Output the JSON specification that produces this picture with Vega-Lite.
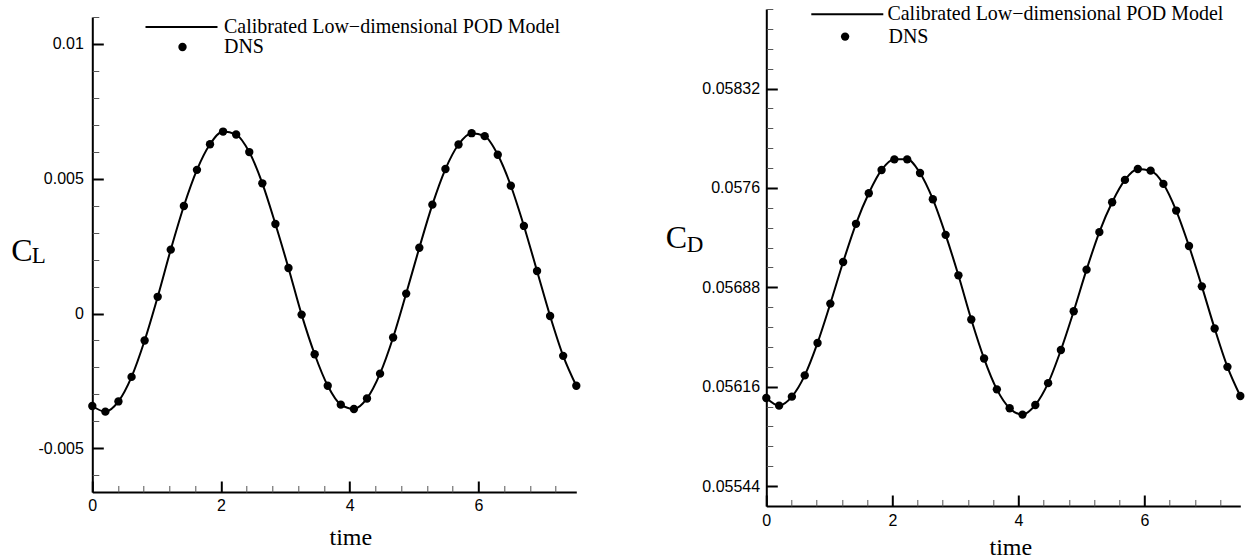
{
  "$schema": "https://vega.github.io/schema/vega-lite/v6.json",
  "background": "white",
  "padding": {"left": 10.3, "top": 4, "right": 0, "bottom": 0},
  "spacing": 83,
  "datasets": {
    "cl": [
      {"time": 0, "CL": -0.00343}, {"time": 0.203, "CL": -0.00364}, {"time": 0.406, "CL": -0.00326}, {"time": 0.61, "CL": -0.00235},
      {"time": 0.813, "CL": -0.001}, {"time": 1.016, "CL": 0.00062}, {"time": 1.219, "CL": 0.00237}, {"time": 1.423, "CL": 0.00399},
      {"time": 1.626, "CL": 0.00533}, {"time": 1.829, "CL": 0.00628}, {"time": 2.032, "CL": 0.00675}, {"time": 2.235, "CL": 0.00664},
      {"time": 2.439, "CL": 0.00599}, {"time": 2.642, "CL": 0.00483}, {"time": 2.845, "CL": 0.00332}, {"time": 3.048, "CL": 0.00169},
      {"time": 3.252, "CL": -0.00004}, {"time": 3.455, "CL": -0.00151}, {"time": 3.658, "CL": -0.00268}, {"time": 3.861, "CL": -0.00338},
      {"time": 4.065, "CL": -0.00354}, {"time": 4.268, "CL": -0.00315}, {"time": 4.471, "CL": -0.00223}, {"time": 4.674, "CL": -0.00089},
      {"time": 4.877, "CL": 0.00074}, {"time": 5.081, "CL": 0.00244}, {"time": 5.284, "CL": 0.00404}, {"time": 5.487, "CL": 0.00536},
      {"time": 5.69, "CL": 0.00627}, {"time": 5.894, "CL": 0.00669}, {"time": 6.097, "CL": 0.00658}, {"time": 6.3, "CL": 0.00589},
      {"time": 6.503, "CL": 0.00474}, {"time": 6.706, "CL": 0.00325}, {"time": 6.91, "CL": 0.00158}, {"time": 7.113, "CL": -0.00009},
      {"time": 7.316, "CL": -0.00157}, {"time": 7.52, "CL": -0.00268}
    ],
    "cd": [
      {"time": 0, "CD": 0.056078}, {"time": 0.203, "CD": 0.056023}, {"time": 0.406, "CD": 0.056088}, {"time": 0.61, "CD": 0.056242},
      {"time": 0.813, "CD": 0.056477}, {"time": 1.016, "CD": 0.056762}, {"time": 1.219, "CD": 0.057063}, {"time": 1.423, "CD": 0.05734},
      {"time": 1.626, "CD": 0.057561}, {"time": 1.829, "CD": 0.05773}, {"time": 2.032, "CD": 0.057807}, {"time": 2.235, "CD": 0.057807},
      {"time": 2.439, "CD": 0.057708}, {"time": 2.642, "CD": 0.057518}, {"time": 2.845, "CD": 0.05726}, {"time": 3.048, "CD": 0.056967},
      {"time": 3.252, "CD": 0.056647}, {"time": 3.455, "CD": 0.056364}, {"time": 3.658, "CD": 0.056141}, {"time": 3.861, "CD": 0.056004},
      {"time": 4.065, "CD": 0.055958}, {"time": 4.268, "CD": 0.056028}, {"time": 4.471, "CD": 0.056186}, {"time": 4.674, "CD": 0.056426},
      {"time": 4.877, "CD": 0.056707}, {"time": 5.081, "CD": 0.057008}, {"time": 5.284, "CD": 0.05728}, {"time": 5.487, "CD": 0.057496},
      {"time": 5.69, "CD": 0.057658}, {"time": 5.894, "CD": 0.057737}, {"time": 6.097, "CD": 0.057725}, {"time": 6.3, "CD": 0.057629},
      {"time": 6.503, "CD": 0.057436}, {"time": 6.706, "CD": 0.057179}, {"time": 6.91, "CD": 0.056887}, {"time": 7.113, "CD": 0.056582},
      {"time": 7.316, "CD": 0.056304}, {"time": 7.52, "CD": 0.056093}
    ]
  },
  "hconcat": [
    {
      "vconcat": [
        {"width": 1, "height": 1, "data": {"values": []}, "mark": "point", "encoding": {}},
        {
          "width": 484,
          "height": 475,
          "data": {"name": "cl"},
          "layer": [
            {
              "mark": {"type": "line", "strokeWidth": 2, "interpolate": "monotone"},
              "encoding": {
                "x": {"field": "time", "type": "quantitative", "scale": {"domain": [0, 7.52], "nice": false, "zero": false},
                  "axis": {"orient": "bottom", "values": [0, 2, 4, 6], "tickSize": -11, "tickWidth": 2, "domainWidth": 2, "labelPadding": 17, "labelFlush": false,
                    "title": "time", "titleFontSize": 24, "titleX": 258, "titleY": 52.3, "titleAlign": "center", "titleBaseline": "alphabetic"}},
                "y": {"field": "CL", "type": "quantitative", "scale": {"domain": [-0.00662, 0.011], "nice": false, "zero": false},
                  "axis": {"orient": "left", "values": [-0.005, 0, 0.005, 0.01], "labelExpr": "'' + datum.value", "tickSize": -11, "tickWidth": 2, "domainWidth": 2, "labelPadding": 20, "labelFlush": false,
                    "title": "C", "titleAngle": 0, "titleFontSize": 32, "titleX": -71, "titleY": 243.5, "titleAlign": "center", "titleBaseline": "alphabetic"}},
                "color": {"datum": "Calibrated Low−dimensional POD Model", "scale": {"range": ["black"]},
                  "legend": {"orient": "none", "legendX": 79.2, "legendY": 0, "padding": 0, "title": null,
                    "symbolType": "M-7.2,0L7.2,0", "symbolSize": 100, "symbolStrokeWidth": 2, "symbolStrokeColor": "black",
                    "labelOffset": 32.5, "labelFont": "Liberation Serif", "labelFontSize": 20, "labelLimit": 600, "labelColor": "black"}}
              }
            },
            {
              "mark": {"type": "point", "filled": true, "color": "black", "opacity": 1, "size": 70},
              "encoding": {
                "x": {"field": "time", "type": "quantitative", "scale": {"domain": [0, 7.52], "nice": false, "zero": false},
                  "axis": {"orient": "bottom", "values": [0.4, 0.8, 1.2, 1.6, 2.4, 2.8, 3.2, 3.6, 4.4, 4.8, 5.2, 5.6, 6.4, 6.8, 7.2], "tickSize": -6.5, "tickWidth": 1, "tickColor": "#555", "labels": false, "domain": false, "title": null}},
                "y": {"field": "CL", "type": "quantitative", "scale": {"domain": [-0.00662, 0.011], "nice": false, "zero": false},
                  "axis": {"orient": "left", "values": [-0.006, -0.004, -0.003, -0.002, -0.001, 0.001, 0.002, 0.003, 0.004, 0.006, 0.007, 0.008, 0.009, 0.011], "tickSize": -6.5, "tickWidth": 1, "tickColor": "#555", "labels": false, "domain": false,
                    "title": "L", "titleAngle": 0, "titleFontSize": 23, "titleX": -61, "titleY": 245.7, "titleAlign": "left", "titleBaseline": "alphabetic"}},
                "shape": {"datum": "DNS", "scale": {"range": ["circle"]},
                  "legend": {"orient": "none", "legendX": 80.2, "legendY": 20, "padding": 0, "title": null,
                    "symbolType": "circle", "symbolSize": 70, "symbolFillColor": "black", "symbolStrokeColor": "black", "symbolStrokeWidth": 0, "symbolOpacity": 1,
                    "labelOffset": 31.5, "labelFont": "Liberation Serif", "labelFontSize": 20, "labelLimit": 600, "labelColor": "black"}}
              }
            }
          ],
          "resolve": {"axis": {"x": "independent", "y": "independent"}}
        }
      ],
      "spacing": 7,
      "bounds": "flush",
      "resolve": {"scale": {"color": "independent", "shape": "independent"}, "legend": {"color": "independent", "shape": "independent"}}
    },
    {
      "width": 474,
      "height": 497,
      "data": {"name": "cd"},
      "layer": [
        {
          "mark": {"type": "line", "strokeWidth": 2, "interpolate": "monotone"},
          "encoding": {
            "x": {"field": "time", "type": "quantitative", "scale": {"domain": [0, 7.52], "nice": false, "zero": false},
              "axis": {"orient": "bottom", "values": [0, 2, 4, 6], "tickSize": -11, "tickWidth": 2, "domainWidth": 2, "labelPadding": 18, "labelFlush": false,
                "title": "time", "titleFontSize": 24, "titleX": 244, "titleY": 48.5, "titleAlign": "center", "titleBaseline": "alphabetic"}},
            "y": {"field": "CD", "type": "quantitative", "scale": {"domain": [0.055296, 0.058896], "nice": false, "zero": false},
              "axis": {"orient": "left", "values": [0.05544, 0.05616, 0.05688, 0.0576, 0.05832], "labelExpr": "'' + datum.value", "tickSize": -11, "tickWidth": 2, "domainWidth": 2, "labelPadding": 17.7, "labelFlush": false,
                "title": "C", "titleAngle": 0, "titleFontSize": 32, "titleX": -90.5, "titleY": 238.6, "titleAlign": "center", "titleBaseline": "alphabetic"}},
            "color": {"datum": "Calibrated Low−dimensional POD Model", "scale": {"range": ["black"]},
              "legend": {"orient": "none", "legendX": 71, "legendY": -4.7, "padding": 0, "title": null,
                "symbolType": "M-7.2,0L7.2,0", "symbolSize": 100, "symbolStrokeWidth": 2, "symbolStrokeColor": "black",
                "labelOffset": 30.1, "labelFont": "Liberation Serif", "labelFontSize": 20, "labelLimit": 600, "labelColor": "black"}}
          }
        },
        {
          "mark": {"type": "point", "filled": true, "color": "black", "opacity": 1, "size": 70},
          "encoding": {
            "x": {"field": "time", "type": "quantitative", "scale": {"domain": [0, 7.52], "nice": false, "zero": false},
              "axis": {"orient": "bottom", "values": [0.4, 0.8, 1.2, 1.6, 2.4, 2.8, 3.2, 3.6, 4.4, 4.8, 5.2, 5.6, 6.4, 6.8, 7.2], "tickSize": -6.5, "tickWidth": 1, "tickColor": "#555", "labels": false, "domain": false, "title": null}},
            "y": {"field": "CD", "type": "quantitative", "scale": {"domain": [0.055296, 0.058896], "nice": false, "zero": false},
              "axis": {"orient": "left", "values": [0.055584, 0.055728, 0.055872, 0.056016, 0.056304, 0.056448, 0.056592, 0.056736, 0.057024, 0.057168, 0.057312, 0.057456, 0.057744, 0.057888, 0.058032, 0.058176, 0.058464, 0.058608, 0.058752, 0.058896], "tickSize": -6.5, "tickWidth": 1, "tickColor": "#555", "labels": false, "domain": false,
                "title": "D", "titleAngle": 0, "titleFontSize": 23, "titleX": -80, "titleY": 242, "titleAlign": "left", "titleBaseline": "alphabetic"}},
            "shape": {"datum": "DNS", "scale": {"range": ["circle"]},
              "legend": {"orient": "none", "legendX": 68.8, "legendY": 17.6, "padding": 0, "title": null,
                "symbolType": "circle", "symbolSize": 70, "symbolFillColor": "black", "symbolStrokeColor": "black", "symbolStrokeWidth": 0, "symbolOpacity": 1,
                "labelOffset": 33.4, "labelFont": "Liberation Serif", "labelFontSize": 20, "labelLimit": 600, "labelColor": "black"}}
          }
        }
      ],
      "resolve": {"axis": {"x": "independent", "y": "independent"}}
    }
  ],
  "resolve": {"scale": {"color": "independent", "shape": "independent"}, "legend": {"color": "independent", "shape": "independent"}},
  "config": {
    "view": {"stroke": null},
    "axis": {"grid": false, "domainColor": "black", "tickColor": "black", "labelColor": "black", "labelFont": "Liberation Sans", "labelFontSize": 16,
      "titleFont": "Liberation Serif", "titleFontWeight": "normal", "titleColor": "black", "tickCap": "butt"},
    "legend": {"rowPadding": 0}
  }
}
